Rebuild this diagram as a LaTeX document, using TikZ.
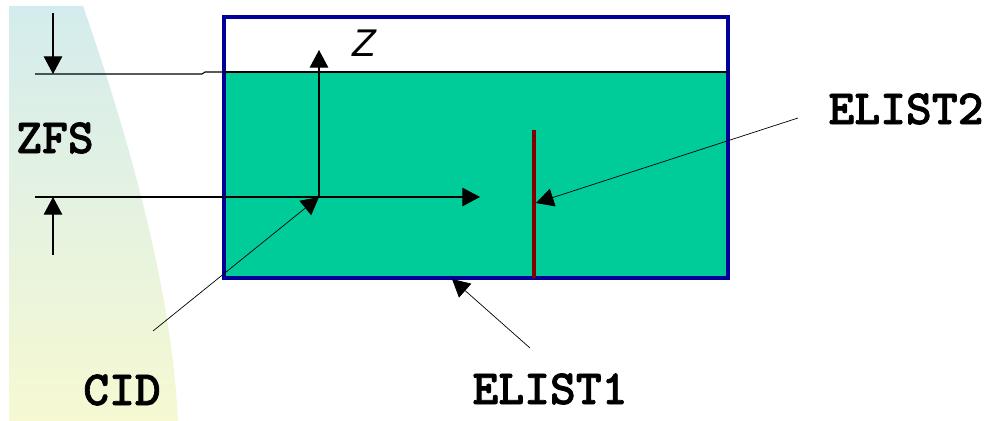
\documentclass[tikz,border=0pt]{standalone}
\usepackage{fontspec}
\setsansfont{Liberation Sans}
\newfontfamily\tagfont{lmmonolt10-bold.otf}[FakeBold=1.5]
\usetikzlibrary{arrows.meta}

\definecolor{watercol}{RGB}{0,204,153}
\definecolor{tankcol}{RGB}{0,0,153}
\definecolor{platecol}{RGB}{128,0,0}
\definecolor{fadetop}{RGB}{212,236,238}
\definecolor{fadebot}{RGB}{246,249,210}

\tikzset{
  tip/.style={-{Triangle[length=10pt,width=10.5pt]}},
  leader/.style={line width=0.4pt,-{Triangle[length=10pt,width=10.5pt]}},
  tag/.style={font=\tagfont\fontsize{28}{28}\selectfont,inner sep=0pt},
}

\begin{document}
\begin{tikzpicture}[x=0.02cm,y=-0.02cm]
        \useasboundingbox (0,0) rectangle (996,421);

        \coordinate (O) at (319,197);
        \coordinate (Zend) at (319,50);
        \coordinate (Xend) at (480,197);
        \coordinate (T1) at (224,17);
        \coordinate (T2) at (728,278);
        \coordinate (S1) at (224,72);
        \coordinate (S2) at (728,72);
        \coordinate (P1) at (534,130);
        \coordinate (P2) at (534,278);
        \coordinate (Ptip) at (536,203);
        \coordinate (Btip) at (452,279);
        \coordinate (A) at (35,74);
        \coordinate (B) at (35,197);
        \coordinate (A0) at (53,13);
        \coordinate (A1) at (53,74);
        \coordinate (B0) at (53,255);
        \coordinate (B1) at (53,197);

    % background
    \shade[top color=fadetop,bottom color=fadebot]
        (9,6) -- (83,6) .. controls (128,135) and (172,290) .. (178,421) -- (9,421) -- cycle;

    % tank
    \fill[white] (T1) rectangle (S2);
    \fill[watercol] (S1) rectangle (T2);
    \draw[tankcol,line width=2pt] (T1) rectangle (T2);
    \draw[line width=0.6pt] (S1) -- (S2);
    \draw[platecol,line width=1.8pt] (P1) -- (P2);

    % axes
    \draw[line width=0.6pt,tip] (O) -- (Zend);
    \draw[line width=0.6pt,tip] (O) -- (Xend);
    \node[font=\sffamily\itshape\fontsize{22}{22}\selectfont] (zlab) at (364,43) {Z};

    % ZFS dimension
    \draw[line width=0.6pt] (A) -- (202,74) -- (205,72) -- (S1);
    \draw[line width=0.6pt] (B) -- (O);
    \draw[line width=0.6pt,tip] (A0) -- (A1);
    \draw[line width=0.6pt,tip] (B0) -- (B1);
    \node[tag] (zfs) at (55,138) {ZFS};

    % labels
    \node[tag] (cid) at (122,390) {CID};
    \node[tag] (elist1) at (550,389) {ELIST1};
    \node[tag] (elist2) at (906,109) {ELIST2};
    \coordinate (cidend) at (153,331);
    \coordinate (e1end) at (530,348);
    \coordinate (e2end) at (798,118);
    \draw[leader] (cidend) -- (O);
    \draw[leader] (e1end) -- (Btip);
    \draw[leader] (e2end) -- (Ptip);
    \end{tikzpicture}
\end{document}
